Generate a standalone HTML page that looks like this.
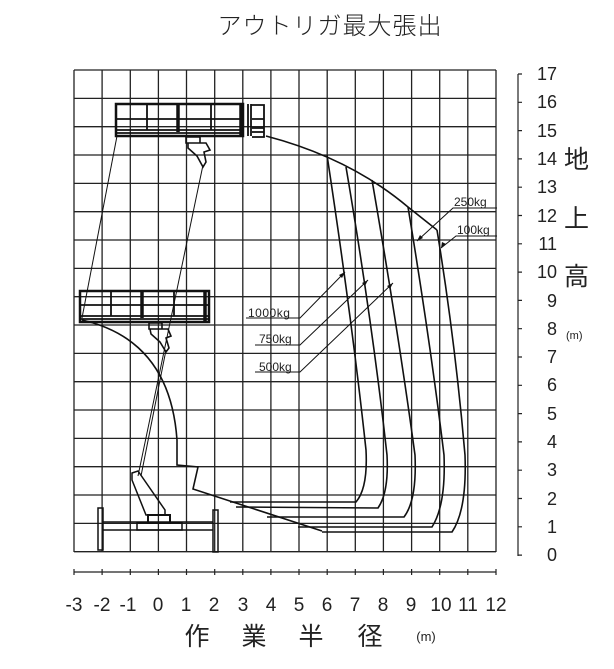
<!DOCTYPE html>
<html><head><meta charset="utf-8"><style>
html,body{margin:0;padding:0;background:#fff;}
svg{display:block;}
text{font-family:"Liberation Sans","Noto Sans CJK JP",sans-serif;fill:#222;}
</style></head><body>
<svg width="614" height="669" viewBox="0 0 614 669" xmlns="http://www.w3.org/2000/svg">
<text x="330" y="34" font-size="24" text-anchor="middle" letter-spacing="1" font-weight="300">アウトリガ最大張出</text>
<g stroke="#222" stroke-width="1.3" fill="none">
<path d="M74,70H496M74,98.4H496M74,126.7H496M74,155H496M74,183.4H496M74,211.7H496M74,240H496M74,268.4H496M74,296.7H496M74,325H496M74,353.4H496M74,381.7H496M74,410H496M74,438.4H496M74,466.7H496M74,495H496M74,523.4H496M74,551.7H496"/>
<path d="M74,70V552M102.1,70V552M130.3,70V552M158.4,70V552M186.5,70V552M214.7,70V552M242.8,70V552M270.9,70V552M299,70V552M327.2,70V552M355.3,70V552M383.4,70V552M411.6,70V552M439.7,70V552M467.8,70V552M496,70V552"/>
</g>
<g stroke="#222" stroke-width="1.2" fill="none">
<path d="M518,74V556"/>
<path d="M518,74h4M518,102.3h4M518,130.6h4M518,158.9h4M518,187.2h4M518,215.5h4M518,243.8h4M518,272.1h4M518,300.4h4M518,328.7h4M518,357h4M518,385.3h4M518,413.6h4M518,441.9h4M518,470.2h4M518,498.5h4M518,526.8h4M518,555.1h4"/>
</g>
<g font-size="18" text-anchor="end">
<text x="557" y="80">17</text><text x="557" y="108">16</text><text x="557" y="137">15</text><text x="557" y="165">14</text><text x="557" y="193">13</text><text x="557" y="222">12</text><text x="557" y="250">11</text><text x="557" y="278">10</text><text x="557" y="307">9</text><text x="557" y="335">8</text><text x="557" y="363">7</text><text x="557" y="391">6</text><text x="557" y="420">5</text><text x="557" y="448">4</text><text x="557" y="476">3</text><text x="557" y="505">2</text><text x="557" y="533">1</text><text x="557" y="561">0</text>
</g>
<g font-size="25"><text x="564" y="168">地</text><text x="564" y="227">上</text><text x="564" y="285">高</text></g>
<text x="566" y="339" font-size="11">(m)</text>
<g stroke="#222" stroke-width="1.2" fill="none">
<path d="M74,572H496"/>
<path d="M74,569v6M102.1,569v6M130.3,569v6M158.4,569v6M186.5,569v6M214.7,569v6M242.8,569v6M270.9,569v6M299,569v6M327.2,569v6M355.3,569v6M383.4,569v6M411.6,569v6M439.7,569v6M467.8,569v6M496,569v6"/>
</g>
<g font-size="19" text-anchor="middle">
<text x="74" y="611">-3</text><text x="102" y="611">-2</text><text x="128" y="611">-1</text><text x="158" y="611">0</text><text x="186" y="611">1</text><text x="214" y="611">2</text><text x="243" y="611">3</text><text x="271" y="611">4</text><text x="299" y="611">5</text><text x="327" y="611">6</text><text x="355" y="611">7</text><text x="383" y="611">8</text><text x="411" y="611">9</text><text x="441" y="611">10</text><text x="468" y="611">11</text><text x="496" y="611">12</text>
</g>
<g font-size="25" text-anchor="middle"><text x="197" y="645">作</text><text x="254" y="645">業</text><text x="311" y="645">半</text><text x="370" y="645">径</text></g>
<text x="426" y="641" font-size="13" text-anchor="middle">(m)</text>
<g stroke="#111" stroke-width="1.6" fill="none">
<path d="M266,136 Q350,158 408,207 L437,230"/>
<path d="M82,320 Q170,340 177,440 L177,465 L198,467 L193,489 L322,531"/>
<path d="M327,155 Q352,320 366,450 Q368,488 356,502 L230,502"/>
<path d="M346,167 Q372,320 387,455 Q389,492 378,508 L236,507"/>
<path d="M372,180 Q398,330 415,455 Q417,500 404,517 L267,517"/>
<path d="M408,207 Q430,340 444,455 Q446,505 432,527 L298,527"/>
<path d="M437,230 Q455,340 465,455 Q467,510 452,532 L322,532"/>
</g>
<g stroke="#111" stroke-width="1" fill="none">
<path d="M117,136 L82,318"/>
<path d="M203,165 L138,476"/>
<path d="M166,350 L141,476"/>
</g>
<g stroke="#111" fill="none">
<rect x="116" y="104" width="127" height="32" stroke-width="2.5"/>
<path d="M116,119H243M116,130H243M116,133H243" stroke-width="1.8"/>
<path d="M147,104V130M211,104V130" stroke-width="1.8"/>
<path d="M178,104V132M241,104V136" stroke-width="3.5"/>
<path d="M248,104V136M251,104V136" stroke-width="1.8"/>
<path d="M251,105H264V121M264,121V137H252M252,119H264M252,128H264M252,132H264" stroke-width="1.8"/>
<path d="M186,137h14v6h-14zM188,143 L206,143 L210,150 L204,152 L206,162 L203,167 L197,156 L188,148Z" stroke-width="1.6"/>
</g>
<g stroke="#111" fill="none">
<rect x="80" y="291" width="129" height="31" stroke-width="2.5"/>
<path d="M80,305H209M80,316H209M80,319H209" stroke-width="1.8"/>
<path d="M111,291V316M174,291V316" stroke-width="1.8"/>
<path d="M142,291V318M205,291V322" stroke-width="3.5"/>
<path d="M149,323h13v6h-13zM150,329 L168,329 L171,336 L166,338 L169,348 L166,352 L160,342 L151,334Z" stroke-width="1.6"/>
</g>
<g stroke="#111" fill="none" stroke-width="1.5">
<rect x="98" y="508" width="5" height="42"/>
<rect x="213" y="510" width="5" height="42"/>
<path d="M103,522H213M103,530H213"/>
<rect x="137" y="523" width="45" height="7"/>
<rect x="148" y="515" width="22" height="8" stroke-width="2"/>
<path d="M132,473 L138,471 L165,510 L165,515 L146,515 L132,480Z"/>
</g>
<g font-size="12"><text x="248" y="317" letter-spacing="0.5">1000kg</text><text x="259" y="343">750kg</text><text x="259" y="371">500kg</text><text x="454" y="206">250kg</text><text x="457" y="234">100kg</text></g>
<g stroke="#111" stroke-width="1" fill="none">
<path d="M246,318H300L345,272"/><path d="M255,345H300L368,280"/><path d="M255,372H300L393,283"/>
<path d="M497,208H453L417,241"/><path d="M497,236H456L441,248"/>
</g>
<g fill="#111"><path d="M345,272l-6,3l3,3z"/><path d="M368,280l-6,3l3,3z"/><path d="M393,283l-6,3l3,3z"/><path d="M417,241l3,-6l3,3z"/><path d="M441,248l1,-6l4,2z"/></g>
</svg>
</body></html>
